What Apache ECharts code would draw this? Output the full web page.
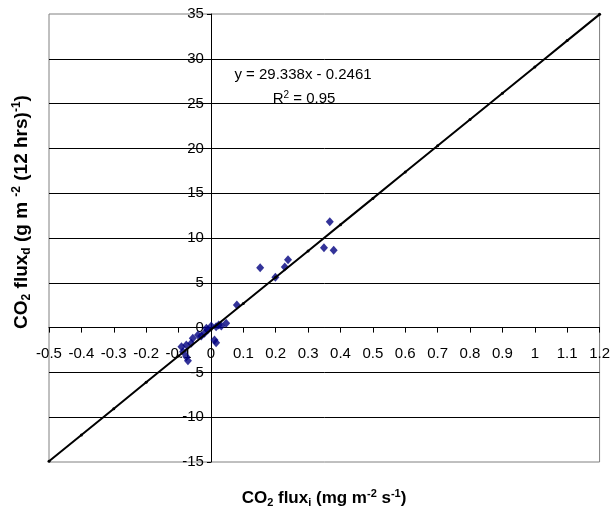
<!DOCTYPE html>
<html>
<head>
<meta charset="utf-8">
<script src="https://cdn.jsdelivr.net/npm/echarts@6/dist/echarts.min.js"></script>
<style>
  html, body { margin: 0; padding: 0; background: #ffffff; }
  #chart { width: 613px; height: 514px; }
</style>
</head>
<body>
<div id="chart"></div>
<script>
// Instantaneous CO2 flux (mg m-2 s-1) against daytime CO2 flux (g m-2 (12 hrs)-1)
const fluxI = [0.152, 0.199, 0.228, 0.238, 0.349, 0.367, 0.379, 0.080,
               0.047, 0.032, 0.016, 0.001, -0.010, -0.020, -0.030, -0.040,
               0.011, 0.016, -0.061, -0.076, -0.091, -0.086, -0.076, -0.071,
               -0.056, -0.014, 0.024];
const fluxD = [6.69, 5.61, 6.76, 7.58, 8.92, 11.82, 8.62, 2.53,
               0.48, 0.18, 0.10, 0.18, -0.27, -0.64, -0.94, -0.83,
               -1.38, -1.68, -1.75, -1.94, -2.13, -2.69, -3.25, -3.69,
               -1.19, -0.08, 0.30];

// Fitted line y = 29.338x - 0.2461, marked every 0.1 on x
const fitX = [-0.5, -0.4, -0.3, -0.2, -0.1, 0, 0.1, 0.2, 0.3,
              0.4, 0.5, 0.6, 0.7, 0.8, 0.9, 1.0, 1.1, 1.2];
const fitY = [-14.92, -11.98, -9.05, -6.11, -3.18, -0.25, 2.69, 5.62, 8.56,
              11.49, 14.42, 17.36, 20.29, 23.22, 26.16, 29.09, 32.03, 34.96];

// Axis ranges: [min, max, step]
const xRange = [-0.5, 1.2, 0.1];
const yRange = [-15, 35, 5];

const fitLabel = 'y = 29.338x - 0.2461';
const r2Value = '0.95';

const FONT = "'Liberation Sans', Arial, sans-serif";
const GRID = { left: 49, right: 12, top: 14, bottom: 52 };

const chart = echarts.init(document.getElementById('chart'), null, { renderer: 'canvas' });

const titleRich = (base, small) => ({
  b: { fontFamily: FONT, fontWeight: 'bold', fontSize: base, lineHeight: base + 3, color: '#000' },
  sub: { fontFamily: FONT, fontWeight: 'bold', fontSize: small, lineHeight: small, verticalAlign: 'bottom', color: '#000' },
  sup: { fontFamily: FONT, fontWeight: 'bold', fontSize: small, lineHeight: small, verticalAlign: 'top', color: '#000' }
});

chart.setOption({
  animation: false,
  backgroundColor: '#ffffff',
  grid: Object.assign({
    show: true, borderColor: '#808080', borderWidth: 1, backgroundColor: 'transparent'
  }, GRID),
  xAxis: {
    type: 'value',
    min: xRange[0], max: xRange[1], interval: xRange[2],
    axisLine: { show: true, onZero: false, lineStyle: { color: '#000', width: 1 } },
    axisTick: { show: true, inside: false, length: 5, lineStyle: { color: '#000' } },
    axisLabel: { color: '#000', fontFamily: FONT, fontSize: 15, margin: 19 },
    splitLine: { show: false }
  },
  yAxis: {
    type: 'value',
    min: yRange[0], max: yRange[1], interval: yRange[2],
    axisLine: { show: true, onZero: false, lineStyle: { color: '#000', width: 1 } },
    axisTick: { show: true, inside: false, length: 4, lineStyle: { color: '#000' } },
    axisLabel: { color: '#000', fontFamily: FONT, fontSize: 15, margin: 7 },
    splitLine: { show: true, showMinLine: false, showMaxLine: false, lineStyle: { color: '#000', width: 1 } }
  },
  series: [
    {
      type: 'scatter',
      data: fluxI.map((x, i) => [x, fluxD[i]]),
      symbol: 'diamond',
      symbolSize: [8, 9],
      itemStyle: { color: '#000080' },
      z: 2
    },
    {
      type: 'line',
      data: fitX.map((x, i) => [x, fitY[i]]),
      showSymbol: true,
      symbol: 'circle',
      symbolSize: 3,
      itemStyle: { color: '#000' },
      lineStyle: { color: '#000', width: 2 },
      z: 3
    }
  ],
  graphic: [
    {
      type: 'text', x: 303, y: 75,
      style: { text: fitLabel, fontFamily: FONT, fontSize: 15, fill: '#000', align: 'center', verticalAlign: 'middle' }
    },
    {
      type: 'text', x: 304, y: 99,
      style: {
        text: '{n|R}{s|2}{n| = ' + r2Value + '}',
        align: 'center', verticalAlign: 'middle',
        rich: {
          n: { fontFamily: FONT, fontSize: 15, lineHeight: 18, color: '#000' },
          s: { fontFamily: FONT, fontSize: 10, lineHeight: 10, verticalAlign: 'top', color: '#000' }
        }
      }
    },
    {
      type: 'text', x: 324, y: 498,
      style: {
        text: '{b|CO}{sub|2}{b| flux}{sub|i}{b| (mg m}{sup|-2}{b| s}{sup|-1}{b|)}',
        align: 'center', verticalAlign: 'middle',
        rich: titleRich(17, 11)
      }
    },
    {
      type: 'text', x: 22, y: 212, rotation: Math.PI / 2,
      style: {
        text: '{b|CO}{sub|2}{b| flux}{sub|d}{b| (g m }{sup|-2}{b| (12 hrs)}{sup|-1}{b|)}',
        align: 'center', verticalAlign: 'middle',
        rich: titleRich(19, 12)
      }
    }
  ]
});

// Place both axes (line, ticks and labels) where the other axis crosses zero
const origin = chart.convertToPixel({ gridIndex: 0 }, [0, 0]);
const chartH = chart.getHeight();
chart.setOption({
  xAxis: { offset: -((chartH - GRID.bottom) - origin[1]) },
  yAxis: { offset: -(origin[0] - GRID.left) }
});
</script>
</body>
</html>
